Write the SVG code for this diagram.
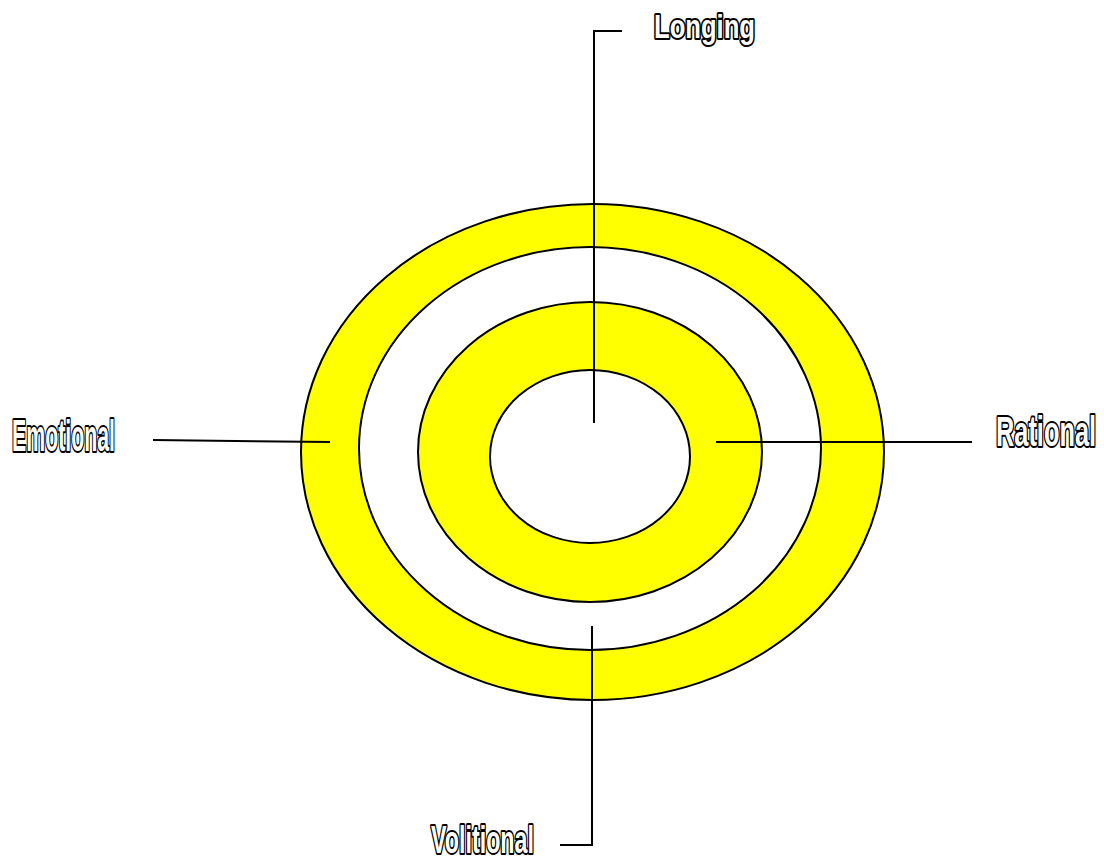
<svg xmlns="http://www.w3.org/2000/svg" width="1104" height="863" viewBox="0 0 1104 863">
<style>
.ring{stroke:#000;stroke-width:2}
.y{fill:#ffff00}
.w{fill:#fff}
.lbl{font-family:"Liberation Sans",Arial,sans-serif;font-weight:bold;fill:#fff;stroke:#000;stroke-width:4;stroke-linejoin:round;paint-order:stroke}
.con{fill:none;stroke:#000;stroke-width:2}
</style>
<rect width="1104" height="863" fill="#fff"/>
<g id="rings">
<ellipse class="ring y" cx="592.5" cy="452" rx="291.5" ry="248"/>
<ellipse class="ring w" cx="590" cy="448.5" rx="231" ry="201.5"/>
<ellipse class="ring y" cx="590" cy="452" rx="172" ry="150"/>
<ellipse class="ring w" cx="590" cy="456.5" rx="100" ry="86.5"/>
</g>
<g id="connectors">
<polyline class="con" points="594,423 594,31 622,31"/>
<line class="con" x1="153" y1="440" x2="330" y2="442"/>
<line class="con" x1="716" y1="442" x2="972" y2="442"/>
<polyline class="con" points="592,626 592,845 560,845"/>
</g>
<g id="longing"><text class="lbl" x="654" y="38" font-size="33" textLength="101" lengthAdjust="spacingAndGlyphs">Longing</text></g>
<g id="emotional"><text class="lbl" x="12" y="451" font-size="44" textLength="103" lengthAdjust="spacingAndGlyphs">Emotional</text></g>
<g id="rational"><text class="lbl" transform="translate(996,446) scale(0.59,1)" x="0" y="0" font-size="43">Rational</text></g>
<g id="volitional"><text class="lbl" x="431" y="853" font-size="39" textLength="103" lengthAdjust="spacingAndGlyphs">Volitional</text></g>
</svg>
